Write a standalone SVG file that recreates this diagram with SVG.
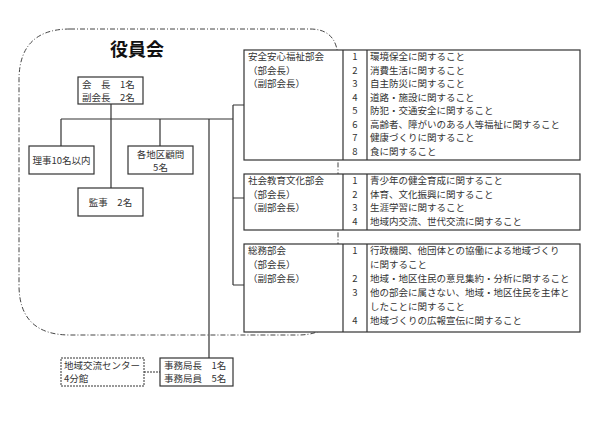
<svg xmlns="http://www.w3.org/2000/svg" width="600" height="425" viewBox="0 0 600 425">
<style>
text{font-family:"Noto Sans CJK JP","Noto Sans",sans-serif;font-size:9.5px;fill:#333}
.b{fill:#fff;stroke:#333;stroke-width:1.2}
.l{fill:none;stroke:#333;stroke-width:1.2}
.n{text-anchor:middle}
</style>
<rect width="600" height="425" fill="#fff"/>
<path d="M70,29 H310 Q338,29 338,60 V295 Q338,335 298,335 H70 Q19,335 19,285 V80 Q19,29 70,29 Z" fill="none" stroke="#444" stroke-width="1" stroke-dasharray="5,2,1,2"/>
<text x="137" y="56" class="n" style="font-size:18px;font-weight:bold;fill:#111">役員会</text>
<g id="connectors" class="l">
<path d="M111,104 V188 M61,119 H233 M61,119 V146 M160,119 V146 M209,119 V358 M233,105 V285 M233,105 H244 M233,198 H244 M233,285 H244"/>
<path d="M144,372 H160" stroke-dasharray="2,1"/>
</g>
<g id="kaicho"><rect class="b" x="78" y="77" width="65" height="27"/><text x="82" y="88">会　長　1名</text><text x="82" y="101">副会長　2名</text></g>
<g id="riji"><rect class="b" x="29" y="146" width="65" height="28"/><text x="61.5" y="164" class="n">理事10名以内</text></g>
<g id="komon"><rect class="b" x="128" y="146" width="65" height="28"/><text x="160.5" y="158" class="n">各地区顧問</text><text x="160.5" y="171" class="n">5名</text></g>
<g id="kanji"><rect class="b" x="78" y="188" width="65" height="28"/><text x="110.5" y="206" class="n">監事　2名</text></g>
<g id="bu1"><rect class="b" x="244" y="50" width="336" height="110"/><path class="l" d="M343,50 V160 M367,50 V160"/>
<text x="248" y="60">安全安心福祉部会</text><text x="248" y="73.5">（部会長）</text><text x="248" y="87">（副部会長）</text>
<g class="n"><text x="355" y="60">1</text><text x="355" y="73.5">2</text><text x="355" y="87">3</text><text x="355" y="100.5">4</text><text x="355" y="114">5</text><text x="355" y="127.5">6</text><text x="355" y="141">7</text><text x="355" y="154.5">8</text></g>
<text x="370" y="60">環境保全に関すること</text><text x="370" y="73.5">消費生活に関すること</text><text x="370" y="87">自主防災に関すること</text><text x="370" y="100.5">道路・施設に関すること</text><text x="370" y="114">防犯・交通安全に関すること</text><text x="370" y="127.5">高齢者、障がいのある人等福祉に関すること</text><text x="370" y="141">健康づくりに関すること</text><text x="370" y="154.5">食に関すること</text></g>
<g id="bu2"><rect class="b" x="244" y="174" width="336" height="56"/><path class="l" d="M343,174 V230 M367,174 V230"/>
<text x="248" y="184">社会教育文化部会</text><text x="248" y="197.5">（部会長）</text><text x="248" y="211">（副部会長）</text>
<g class="n"><text x="355" y="184">1</text><text x="355" y="197.5">2</text><text x="355" y="211">3</text><text x="355" y="224.5">4</text></g>
<text x="370" y="184">青少年の健全育成に関すること</text><text x="370" y="197.5">体育、文化振興に関すること</text><text x="370" y="211">生涯学習に関すること</text><text x="370" y="224.5">地域内交流、世代交流に関すること</text></g>
<g id="bu3"><rect class="b" x="244" y="244" width="336" height="88"/><path class="l" d="M343,244 V332 M367,244 V332"/>
<text x="248" y="254">総務部会</text><text x="248" y="268">（部会長）</text><text x="248" y="282">（副部会長）</text>
<g class="n"><text x="355" y="254">1</text><text x="355" y="282">2</text><text x="355" y="296">3</text><text x="355" y="324">4</text></g>
<text x="370" y="254">行政機関、他団体との協働による地域づくり</text><text x="370" y="268">に関すること</text><text x="370" y="282">地域・地区住民の意見集約・分析に関すること</text><text x="370" y="296">他の部会に属さない、地域・地区住民を主体と</text><text x="370" y="310">したことに関すること</text><text x="370" y="324">地域づくりの広報宣伝に関すること</text></g>
<g id="jimukyoku"><rect class="b" x="160" y="358" width="73" height="28"/><text x="164" y="369">事務局長　1名</text><text x="164" y="382">事務局員　5名</text></g>
<g id="center"><rect x="61" y="358" width="83" height="28" fill="#fff" stroke="#333" stroke-dasharray="2,1"/><text x="64" y="369">地域交流センター</text><text x="64" y="382">4分館</text></g>
</svg>
